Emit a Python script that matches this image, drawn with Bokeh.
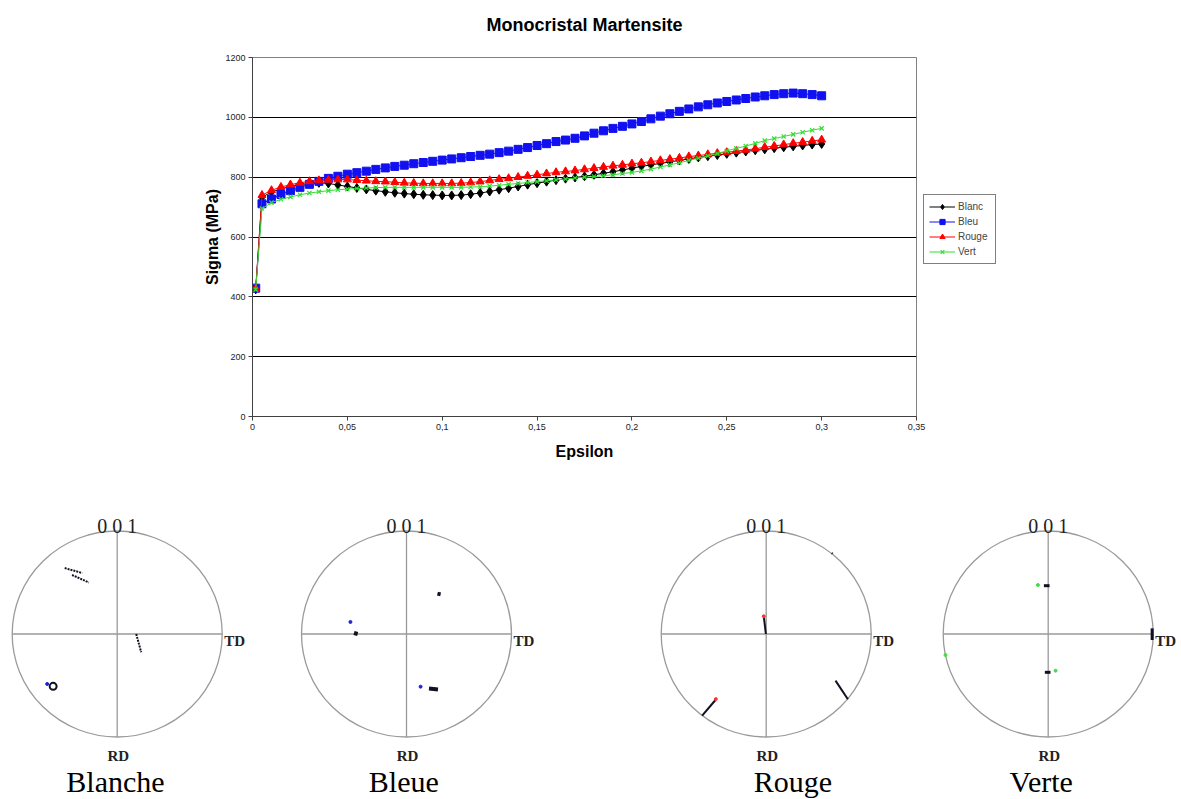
from bokeh.plotting import figure
from bokeh.models import Range1d, FixedTicker, CustomJSTickFormatter, Legend, LegendItem, Title
from bokeh.layouts import column, row
from bokeh.embed import file_html
from bokeh.resources import INLINE
from bokeh.core.properties import value

# ---------------- data: stress-strain curves ----------------
eps = [0.0017] + [round(0.005 * k, 3) for k in range(1, 61)]

sigma_blanc = [425, 733, 750, 761, 769, 775, 779, 781, 779, 774, 769, 764, 759, 755, 751, 748, 745, 743, 741, 740, 739,
               739, 740, 743, 747, 752, 758, 763, 769, 775, 780,
               785, 790, 795, 799, 803, 808, 813, 818, 824, 830,
               836, 841, 846, 851, 856, 861, 866, 870, 874, 878,
               882, 886, 890, 893, 897, 900, 903, 906, 909, 911]
sigma_bleu = [429, 711, 727, 742, 755, 766, 776, 786, 796, 803, 810, 815, 820, 826, 831, 836, 840, 845, 849, 853, 857,
              861, 865, 869, 873, 877, 882, 887, 893, 899, 906,
              912, 919, 924, 930, 938, 947, 955, 963, 970, 978,
              986, 995, 1004, 1012, 1020, 1028, 1035, 1042, 1048, 1053,
              1058, 1063, 1068, 1072, 1076, 1079, 1081, 1079, 1076, 1072]
sigma_rouge = [427, 740, 756, 767, 775, 781, 786, 789, 791, 792, 792, 790, 788, 786, 785, 783, 781, 780, 779, 779, 779,
               779, 780, 782, 785, 789, 793, 796, 800, 804, 808,
               812, 816, 819, 822, 826, 830, 834, 838, 841, 845,
               848, 852, 856, 860, 864, 869, 872, 876, 880, 883,
               887, 891, 895, 900, 904, 909, 913, 917, 921, 925]
sigma_vert = [424, 695, 715, 726, 734, 741, 747, 751, 755, 758, 760, 762, 764, 765, 766, 766, 766, 766, 766, 766, 766,
              766, 766, 767, 768, 770, 773, 776, 779, 782, 785,
              788, 791, 794, 797, 800, 802, 805, 808, 812, 816,
              821, 827, 834, 841, 848, 856, 863, 871, 879, 888,
              896, 904, 913, 922, 929, 936, 943, 950, 957, 963]

series_names = ["Blanc", "Bleu", "Rouge", "Vert"]
x_ticks = [0, 0.05, 0.1, 0.15, 0.2, 0.25, 0.3, 0.35]
y_ticks = [0, 200, 400, 600, 800, 1000, 1200]

# ---------------- data: pole figures (unit circle coords) ----------------
pole_captions = ["Blanche", "Bleue", "Rouge", "Verte"]

blanche_lines_x = [[-0.50, -0.333], [-0.43, -0.27], [0.181, 0.229]]
blanche_lines_y = [[0.64, 0.592], [0.573, 0.50], [0.0, -0.178]]
blanche_ring_x = [-0.61]
blanche_ring_y = [-0.508]
blanche_dots_x = [-0.667]
blanche_dots_y = [-0.485]

bleue_lines_x = [[0.295, 0.325], [-0.50, -0.465], [0.214, 0.30]]
bleue_lines_y = [[0.392, 0.385], [0.01, 0.0], [-0.53, -0.538]]
bleue_dots_x = [-0.534, 0.134]
bleue_dots_y = [0.117, -0.511]

rouge_lines_x = [[-0.022, -0.003], [-0.483, -0.61], [0.66, 0.778], [0.625, 0.632]]
rouge_lines_y = [[0.162, 0.0], [-0.641, -0.793], [-0.453, -0.634], [0.787, 0.779]]
rouge_dots_x = [-0.023, -0.48]
rouge_dots_y = [0.172, -0.632]

verte_lines_x = [[-0.041, 0.013], [-0.032, 0.022], [0.99, 0.99]]
verte_lines_y = [[0.469, 0.469], [-0.372, -0.372], [0.055, -0.058]]
verte_dots_x = [-0.098, 0.07, -0.978]
verte_dots_y = [0.476, -0.356, -0.204]

# ---------------- main chart ----------------
SANS = "Liberation Sans"
SERIF = "Liberation Serif"

p = figure(frame_width=664, frame_height=359, x_range=Range1d(0, 0.35), y_range=Range1d(0, 1200),
           output_backend="svg", toolbar_location=None, title=None,
           min_border_left=252, min_border_right=265, min_border_top=57, min_border_bottom=54)

# an empty spacer title next to the frame, then the real title further up
p.add_layout(Title(text=" ", text_font_size="10px", standoff=10), "above")
p.add_layout(Title(text="Monocristal Martensite", align="center", text_font=SANS,
                   text_font_size="18px", text_font_style="bold", text_color="black",
                   standoff=0), "above")

p.outline_line_color = "#808080"
p.outline_line_width = 1
p.background_fill_color = "white"
p.border_fill_color = "white"

p.xgrid.visible = False
p.ygrid.grid_line_color = "black"
p.ygrid.grid_line_width = 1
p.ygrid.ticker = FixedTicker(ticks=y_ticks)

p.xaxis.ticker = FixedTicker(ticks=x_ticks)
p.yaxis.ticker = FixedTicker(ticks=y_ticks)
p.xaxis.formatter = CustomJSTickFormatter(code="return tick.toString().replace('.', ',');")
for ax in (p.xaxis, p.yaxis):
    ax.axis_line_color = "#404040"
    ax.major_tick_line_color = "#404040"
    ax.major_tick_out = 4
    ax.major_tick_in = 0
    ax.minor_tick_line_color = None
    ax.major_label_text_font = SANS
    ax.major_label_text_font_size = "9px"
    ax.major_label_text_color = "#222222"
    ax.axis_label_text_font = SANS
    ax.axis_label_text_font_size = "16px"
    ax.axis_label_text_font_style = "bold"
    ax.axis_label_text_color = "black"
p.xaxis.axis_label = "Epsilon"
p.yaxis.axis_label = "Sigma (MPa)"
p.xaxis.axis_label_standoff = 10
p.yaxis.axis_label_standoff = 1
p.xaxis.major_label_standoff = 3
p.yaxis.major_label_standoff = 3

all_sigma = [sigma_blanc, sigma_bleu, sigma_rouge, sigma_vert]
colors = ["#000000", "#1010F0", "#FF0000", "#33DD33"]
markers = ["diamond", "square", "triangle", "x"]
sizes = [9, 8, 8, 6]

items = []
for name, sig, col, mk, sz in zip(series_names, all_sigma, colors, markers, sizes):
    ln = p.line(eps, sig, line_color=col, line_width=1)
    if mk == "x":
        sc = p.scatter(eps, sig, marker=mk, size=sz, line_color=col, line_width=1.2)
    else:
        sc = p.scatter(eps, sig, marker=mk, size=sz, fill_color=col, line_color=col)
    items.append(LegendItem(label=name, renderers=[ln, sc]))

legend = Legend(items=items, location=(7, 152))
legend.border_line_color = "black"
legend.border_line_width = 1
legend.background_fill_color = "white"
legend.label_text_font = SANS
legend.label_text_font_size = "10px"
legend.glyph_width = 26
legend.glyph_height = 13
legend.spacing = 2
legend.padding = 5
legend.margin = 0
legend.label_standoff = 3
legend.label_width = 32
p.add_layout(legend, "right")

# ---------------- pole figures ----------------
SX = 105.0   # px per unit radius (horizontal)
SY = 103.0   # px per unit radius (vertical)
H2 = 329
CY = 163.5   # px from top of pole figure to circle centre


def pole_figure(width, cx, caption, caption_dx, lines_x, lines_y, line_w, line_dash,
                dots_x, dots_y, dot_color):
    f = figure(width=width, height=H2,
               x_range=Range1d(-cx / SX, (width - cx) / SX),
               y_range=Range1d(-(H2 - CY) / SY, CY / SY),
               output_backend="svg", toolbar_location=None,
               x_axis_type=None, y_axis_type=None, min_border=0)
    f.grid.visible = False
    f.outline_line_color = None
    f.background_fill_color = "white"
    f.border_fill_color = "white"
    # reference frame of the stereographic projection
    f.ellipse(x=0, y=0, width=2, height=2, fill_color=None, line_color="#9a9a9a", line_width=1.3)
    f.segment(x0=[-1, 0], y0=[0, -1], x1=[1, 0], y1=[0, 1], line_color="#9a9a9a", line_width=1.3)
    # poles
    f.multi_line(lines_x, lines_y, line_color="#111122", line_width=line_w, line_dash=line_dash)
    f.scatter(dots_x, dots_y, size=3, marker="circle", fill_color=dot_color, line_color=dot_color)
    # labels
    f.text(x=[0], y=[108.5 / SY], text=["0 0 1"], text_font=value(SERIF), text_font_size="20px",
           text_align="center", text_baseline="alphabetic", text_color="#222222")
    f.text(x=[107.0 / SX], y=[-6.5 / SY], text=["TD"], text_font=value(SERIF), text_font_size="15px",
           text_font_style="bold", text_align="left", text_baseline="alphabetic", text_color="#222222")
    f.text(x=[0.01], y=[-121.5 / SY], text=["RD"], text_font=value(SERIF), text_font_size="15px",
           text_font_style="bold", text_align="center", text_baseline="alphabetic", text_color="#222222")
    f.text(x=[caption_dx / SX], y=[-147.0 / SY], text=[caption], text_font=value(SERIF),
           text_font_size="30px", text_align="center", text_baseline="alphabetic", text_color="black")
    return f


f1 = pole_figure(268, 116.7, pole_captions[0], -1.7, blanche_lines_x, blanche_lines_y, 2, "2 1",
                 blanche_dots_x, blanche_dots_y, "#2222cc")
f1.scatter(blanche_ring_x, blanche_ring_y, size=7, marker="circle", fill_color=None,
           line_color="#111122", line_width=2)
f2 = pole_figure(290, 138.0, pole_captions[1], -2.7, bleue_lines_x, bleue_lines_y, 4, "solid",
                 bleue_dots_x, bleue_dots_y, "#2222cc")
f3 = pole_figure(340, 207.7, pole_captions[2], 26.8, rouge_lines_x, rouge_lines_y, 2, "solid",
                 rouge_dots_x, rouge_dots_y, "#ff3333")
f4 = pole_figure(283, 149.7, pole_captions[3], -7.0, verte_lines_x, verte_lines_y, 3, "solid",
                 verte_dots_x, verte_dots_y, "#44dd44")

layout = column(p, row(f1, f2, f3, f4, spacing=0), spacing=0)
open("out.html", "w").write(file_html(layout, INLINE))
